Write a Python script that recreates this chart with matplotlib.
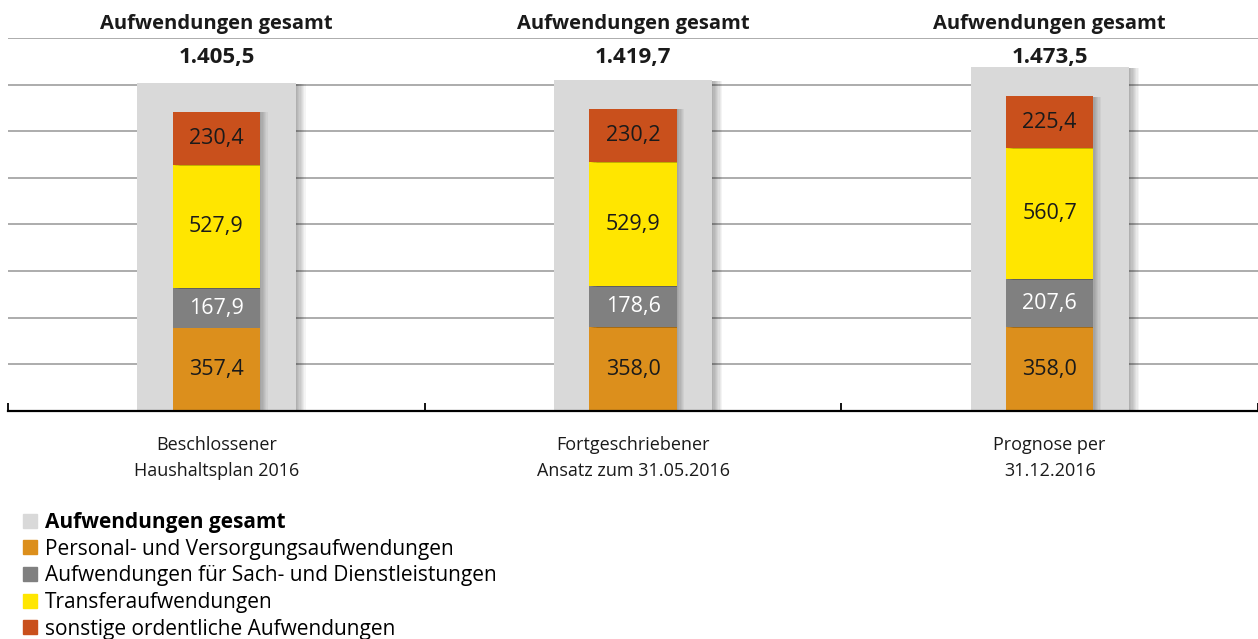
import matplotlib.pyplot as plt
import matplotlib.patheffects as pe
from matplotlib.patches import Patch
import numpy as np

plt.rcParams['font.family'] = ['Open Sans', 'DejaVu Sans']

categories = ['Beschlossener\nHaushaltsplan 2016',
              'Fortgeschriebener\nAnsatz zum 31.05.2016',
              'Prognose per\n31.12.2016']
totals = [1405.5, 1419.7, 1473.5]
personal = [357.4, 358.0, 358.0]
sach = [167.9, 178.6, 207.6]
transfer = [527.9, 529.9, 560.7]
sonstige = [230.4, 230.2, 225.4]

series_names = ['Personal- und Versorgungsaufwendungen',
                'Aufwendungen für Sach- und Dienstleistungen',
                'Transferaufwendungen',
                'sonstige ordentliche Aufwendungen']
series = [personal, sach, transfer, sonstige]
colors = ['#DC8F1C', '#808080', '#FFE600', '#C9501C']
text_colors = ['#1a1a1a', 'white', '#1a1a1a', '#1a1a1a']
total_color = '#D9D9D9'


def fmt(v):
    s = '{:,.1f}'.format(v)
    return s.replace(',', 'X').replace('.', ',').replace('X', '.')


def soft_shadow(n=6):
    effects = []
    for i in range(1, n + 1):
        effects.append(pe.SimplePatchShadow(offset=(i * 0.9, -0.5),
                                            shadow_rgbFace='black', alpha=0.045))
    effects.append(pe.Normal())
    return effects


fig = plt.figure(figsize=(12.58, 6.39), dpi=100)
ax = fig.add_axes([0.0064, 0.357, 0.9936, 0.5835])

x = np.arange(len(categories))
ax.bar(x, totals, width=0.38, color=total_color, zorder=2,
       path_effects=soft_shadow(8))

bottom = np.zeros(len(categories))
for vals, c, tc in zip(series, colors, text_colors):
    ax.bar(x, vals, width=0.21, bottom=bottom, color=c, zorder=3,
           path_effects=soft_shadow(6))
    for xi, b, v in zip(x, bottom, vals):
        ax.text(xi, b + v / 2, fmt(v), ha='center', va='center',
                fontsize=15.5, color=tc, zorder=4)
    bottom += np.array(vals)

for xi, t in zip(x, totals):
    ax.text(xi, 1660, 'Aufwendungen gesamt', ha='center', va='center',
            fontsize=14.5, fontweight='bold', color='#1a1a1a', clip_on=False)
    ax.text(xi, 1515, fmt(t), ha='center', va='center',
            fontsize=16, fontweight='bold', color='#1a1a1a')

ax.set_xlim(-0.5, 2.5)
ax.set_ylim(0, 1600)
ax.set_yticks(np.arange(0, 1601, 200))
ax.yaxis.grid(True, color='#A6A6A6', linewidth=1.3, zorder=0)
ax.set_axisbelow(True)
ax.tick_params(axis='y', left=False, labelleft=False)

ax.set_xticks(x)
ax.set_xticklabels(categories, fontsize=13, color='#1a1a1a', linespacing=1.55)
ax.set_xticks([-0.5, 0.5, 1.5, 2.5], minor=True)
ax.tick_params(axis='x', which='major', length=0, pad=18)
ax.tick_params(axis='x', which='minor', direction='in', length=6, width=1.3)

for s in ['left', 'right', 'top']:
    ax.spines[s].set_visible(False)
ax.spines['bottom'].set_linewidth(1.6)
ax.spines['bottom'].set_zorder(5)

handles = [Patch(color=total_color)] + [Patch(color=c) for c in colors]
labels = ['Aufwendungen gesamt'] + series_names
leg = fig.legend(handles, labels, loc='lower left', bbox_to_anchor=(0.012, -0.014),
                 frameon=False, fontsize=15, handlelength=0.65, handleheight=0.65,
                 handletextpad=0.4, labelspacing=0.27, borderaxespad=0)
leg.get_texts()[0].set_fontweight('bold')

fig.savefig('out.png', dpi=100)
